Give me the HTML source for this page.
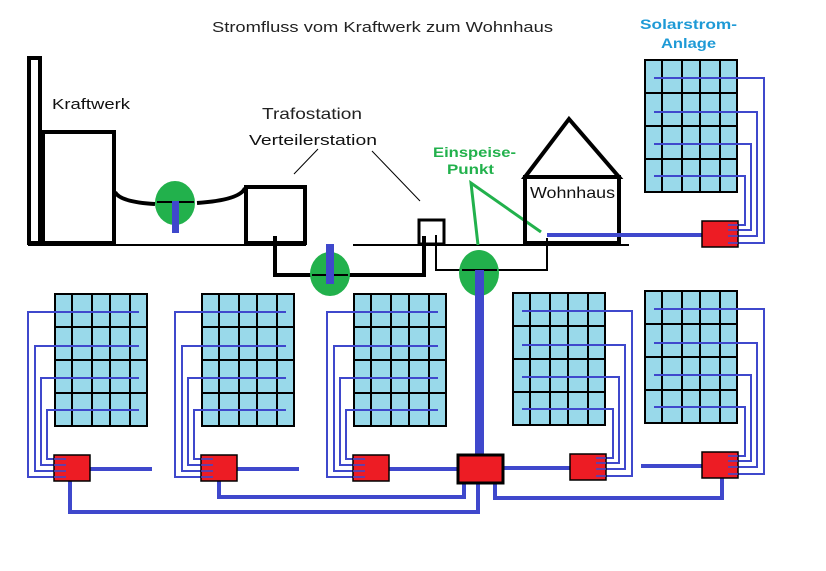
<!DOCTYPE html>
<html><head><meta charset="utf-8"><style>
html,body{margin:0;padding:0;background:#fff;}
svg{display:block;font-family:"Liberation Sans",sans-serif;}
</style></head><body>
<svg id="s" width="826" height="571" viewBox="0 0 826 571" xmlns="http://www.w3.org/2000/svg">
<rect width="826" height="571" fill="#fff"/>
<text x="212" y="32" font-size="15" textLength="341" lengthAdjust="spacingAndGlyphs" fill="#222">Stromfluss vom Kraftwerk zum Wohnhaus</text>
<text x="640" y="29" font-size="14" font-weight="bold" textLength="97" lengthAdjust="spacingAndGlyphs" fill="#1e9ad6">Solarstrom-</text>
<text x="661" y="48" font-size="14" font-weight="bold" textLength="55" lengthAdjust="spacingAndGlyphs" fill="#1e9ad6">Anlage</text>
<!-- Kraftwerk -->
<rect x="29" y="58" width="11" height="185" fill="none" stroke="#000" stroke-width="4"/>
<rect x="43" y="132" width="71" height="111" fill="none" stroke="#000" stroke-width="4"/>
<rect x="40" y="132" width="5" height="112" fill="#000"/>
<text x="52" y="109" font-size="15" textLength="78" lengthAdjust="spacingAndGlyphs" fill="#111">Kraftwerk</text>
<line x1="28" y1="245" x2="306" y2="245" stroke="#000" stroke-width="2"/>
<line x1="353" y1="245" x2="629" y2="245" stroke="#000" stroke-width="2"/>
<path d="M115 192 Q120 202 155 204" fill="none" stroke="#000" stroke-width="4"/>
<path d="M197 203 Q240 200 245 188" fill="none" stroke="#000" stroke-width="4"/>
<ellipse cx="175" cy="203" rx="20" ry="22" fill="#22b14c"/>
<line x1="157" y1="202" x2="194" y2="202" stroke="#000" stroke-width="2"/>
<rect x="172" y="201" width="7" height="32" fill="#3f48cc"/>
<!-- Trafo -->
<rect x="246" y="187" width="59" height="56" fill="none" stroke="#000" stroke-width="4"/>
<text x="262" y="119" font-size="16" textLength="100" lengthAdjust="spacingAndGlyphs" fill="#222">Trafostation</text>
<text x="249" y="145" font-size="15" textLength="128" lengthAdjust="spacingAndGlyphs" fill="#111">Verteilerstation</text>
<line x1="318" y1="149" x2="294" y2="174" stroke="#000" stroke-width="1"/>
<line x1="372" y1="151" x2="420" y2="201" stroke="#000" stroke-width="1"/>
<polyline points="275,236 275,275 424,275 424,236" fill="none" stroke="#000" stroke-width="4"/>
<ellipse cx="330" cy="274" rx="20" ry="22" fill="#22b14c"/>
<line x1="312" y1="275" x2="348" y2="275" stroke="#000" stroke-width="2"/>
<rect x="326" y="244" width="8" height="40" fill="#3f48cc"/>
<rect x="419" y="220" width="25" height="24" fill="none" stroke="#000" stroke-width="3"/>
<polyline points="436,235 436,270 547,270 547,238" fill="none" stroke="#000" stroke-width="2"/>
<ellipse cx="479" cy="273" rx="20" ry="23" fill="#22b14c"/>
<line x1="462" y1="270" x2="497" y2="270" stroke="#000" stroke-width="2"/>
<rect x="475" y="270" width="9" height="186" fill="#3f48cc"/>
<!-- Einspeise -->
<text x="433" y="157" font-size="14" font-weight="bold" textLength="83" lengthAdjust="spacingAndGlyphs" fill="#22b14c">Einspeise-</text>
<text x="447" y="174" font-size="14" font-weight="bold" textLength="47" lengthAdjust="spacingAndGlyphs" fill="#22b14c">Punkt</text>
<polyline points="478,245 471,183 541,232" fill="none" stroke="#22b14c" stroke-width="3"/>
<!-- House -->
<polygon points="525,177 569,119 619,177" fill="none" stroke="#000" stroke-width="4"/>
<rect x="525" y="177" width="94" height="66" fill="none" stroke="#000" stroke-width="4"/>
<text x="530" y="198" font-size="16" textLength="85" lengthAdjust="spacingAndGlyphs" fill="#111">Wohnhaus</text>
<line x1="547" y1="235" x2="703" y2="235" stroke="#3f48cc" stroke-width="4"/>
<g id="dyn"></g>
</svg>
<script>
var NS="http://www.w3.org/2000/svg",g=document.getElementById("dyn");
function el(t,a){var e=document.createElementNS(NS,t);for(var k in a)e.setAttribute(k,a[k]);g.appendChild(e);return e;}
var B="#3f48cc";
function panel(x,y){
 el("rect",{x:x,y:y,width:92,height:132,fill:"#99d9ea",stroke:"#000","stroke-width":2});
 var cx=[17,37,55,75];cx.forEach(function(c){el("line",{x1:x+c,y1:y,x2:x+c,y2:y+132,stroke:"#000","stroke-width":2});});
 [33,66,99].forEach(function(r){el("line",{x1:x,y1:y+r,x2:x+92,y2:y+r,stroke:"#000","stroke-width":2});});
}
function inv(x,y){el("rect",{x:x,y:y,width:36,height:26,fill:"#ed1c24",stroke:"#000","stroke-width":1.5});}
function leftSet(px,py,ix,iy){
 panel(px,py);
 var xs=[px-27,px-20,px-14,px-8],ys=[18,52,84,116],bs=[22,16,10,4];
 for(var i=0;i<4;i++){el("polyline",{points:(px+84)+","+(py+ys[i])+" "+xs[i]+","+(py+ys[i])+" "+xs[i]+","+(iy+bs[i])+" "+(ix+12)+","+(iy+bs[i]),fill:"none",stroke:B,"stroke-width":2});}
 inv(ix,iy);
 for(var i=0;i<4;i++){el("line",{x1:ix,y1:iy+bs[i],x2:ix+12,y2:iy+bs[i],stroke:B,"stroke-width":1.5});}
}
function rightSet(px,py,ix,iy){
 panel(px,py);
 var xs=[px+119,px+112,px+106,px+100],ys=[18,52,84,116],bs=[22,15,9,4];
 for(var i=0;i<4;i++){el("polyline",{points:(px+9)+","+(py+ys[i])+" "+xs[i]+","+(py+ys[i])+" "+xs[i]+","+(iy+bs[i])+" "+(ix+26)+","+(iy+bs[i]),fill:"none",stroke:B,"stroke-width":2});}
 inv(ix,iy);
 for(var i=0;i<4;i++){el("line",{x1:ix+26,y1:iy+bs[i],x2:ix+36,y2:iy+bs[i],stroke:B,"stroke-width":1.5});}
}
function tw(p){el("polyline",{points:p,fill:"none",stroke:B,"stroke-width":4});}
tw("70,480 70,512 478,512 478,484");
tw("219,480 219,497 464,497 464,484");
tw("495,484 495,498 722,498 722,478");
tw("90,469 152,469");tw("237,469 299,469");tw("389,469 458,469");tw("503,468 571,468");tw("641,466 703,466");
leftSet(55,294,54,455);
leftSet(202,294,201,455);
leftSet(354,294,353,455);
rightSet(513,293,570,454);
rightSet(645,291,702,452);
rightSet(645,60,702,221);
el("rect",{x:458,y:455,width:45,height:28,fill:"#ed1c24",stroke:"#000","stroke-width":3});
</script>
</body></html>
